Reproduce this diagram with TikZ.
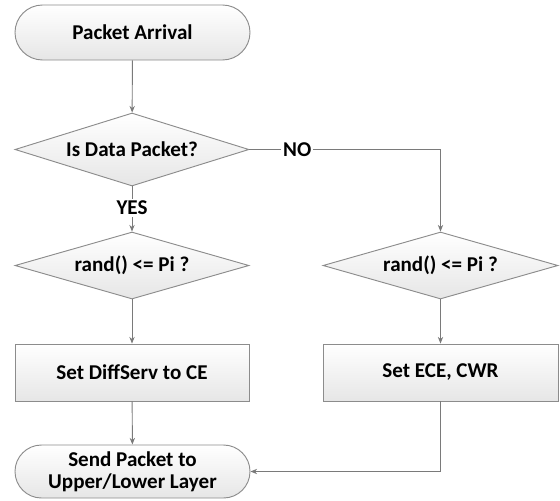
\documentclass[tikz,border=0pt]{standalone}
\usepackage{fontspec}
\setmainfont{Carlito}
\usetikzlibrary{shapes.geometric,shapes.misc,arrows.meta}

\definecolor{edgegray}{HTML}{8C8C8C}
\definecolor{linegray}{HTML}{7A7A7A}
\definecolor{fillbot}{HTML}{E6E6E6}

\tikzset{
  shapebase/.style={draw=edgegray, line width=0.7pt, top color=white, bottom color=fillbot,
    font=\fontsize{15.8pt}{16.5pt}\selectfont\bfseries, align=center, inner sep=0pt},
  terminal/.style={shapebase, rounded rectangle, minimum width=176.25pt},
  decision/.style={shapebase, diamond, aspect=3.2, minimum width=175.5pt},
  process/.style={shapebase, rectangle, minimum width=175.5pt, minimum height=42.75pt},
  flow/.style={draw=linegray, line width=0.7pt, -{Stealth[length=5pt,width=4pt]}},
  branch/.style={fill=white, inner sep=1.5pt, text=black,
    font=\fontsize{15.8pt}{16.5pt}\selectfont\bfseries}
}

\begin{document}
\begin{tikzpicture}[x=0.75pt, y=-0.75pt]
  \useasboundingbox (0,0) rectangle (560,500);

  % start and end of the flow
  \node[terminal, minimum height=41.25pt] (start) at (132.5,32.5) {Packet Arrival};
  \node[terminal, minimum height=39.75pt] (send) at (132.5,471.5) {Send Packet to\\Upper/Lower Layer};

  % decisions
  \node[decision, minimum height=54.75pt] (isdata) at (132,149.5) {Is Data Packet?};
  \node[decision, minimum height=50.25pt] (randL) at (132,265.5) {rand() <= Pi ?};
  \node[decision, minimum height=50.25pt, minimum width=176.25pt] (randR) at (440.5,265.5) {rand() <= Pi ?};

  % actions
  \node[process] (diffserv) at (132,372.5) {Set DiffServ to CE};
  \node[process, minimum width=176.25pt] (ecn) at (440.5,372.5) {Set ECE, CWR};

  % connectors
  \draw[flow] (start) -- (isdata);
  \draw[flow] (isdata.south) -- node[branch, pos=0.48] {YES} (randL.north);
  \draw[flow] (isdata.east) -| node[branch, pos=0.125] {NO} (randR.north);
  \draw[flow] (randL) -- (diffserv);
  \draw[flow] (randR) -- (ecn);
  \draw[flow] (diffserv) -- (send);
  \draw[flow] (ecn.south) |- (send.east);
\end{tikzpicture}
\end{document}
